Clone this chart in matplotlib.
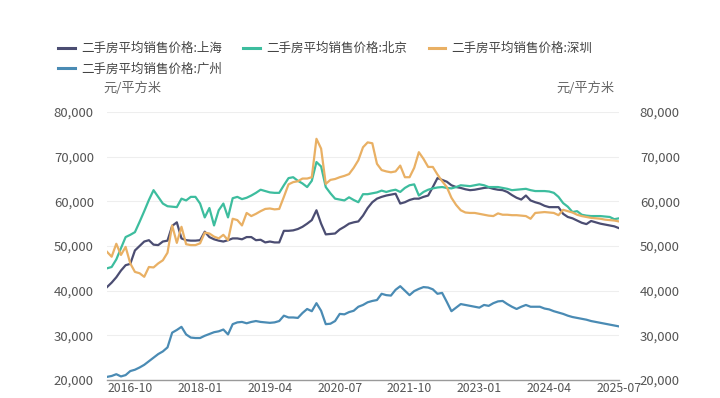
import matplotlib
matplotlib.use("Agg")
import matplotlib.pyplot as plt
from matplotlib.ticker import FuncFormatter
import pandas as pd

plt.rcParams['font.family'] = ['Noto Sans CJK SC', 'DejaVu Sans']

months = pd.date_range("2016-05-01", "2025-07-01", freq="MS").strftime("%Y-%m").tolist()

shanghai = [40.8, 41.8, 43.0, 44.5, 45.7, 46.0, 49.0, 50.0, 51.0, 51.3,
            50.3, 50.2, 51.0, 51.2, 54.5, 55.3, 51.7, 51.3, 51.2, 51.2,
            51.3, 53.2, 52.0, 51.5, 51.2, 51.0, 51.3, 51.7, 51.7, 51.5,
            52.0, 52.0, 51.3, 51.4, 50.8, 51.0, 50.8, 50.8, 53.4, 53.4,
            53.5, 53.8, 54.3, 55.0, 55.8, 58.0, 55.0, 52.6, 52.7, 52.8,
            53.7, 54.3, 55.0, 55.3, 55.5, 56.8, 58.5, 59.8, 60.6, 61.0,
            61.3, 61.5, 61.7, 59.5, 59.8, 60.3, 60.6, 60.6, 61.0, 61.3,
            63.2, 65.2, 64.8, 64.4, 63.6, 63.2, 63.0, 62.7, 62.5, 62.6,
            62.8, 63.0, 63.1, 62.8, 62.6, 62.5, 62.1, 61.4, 60.8, 60.4,
            61.3, 60.2, 59.8, 59.5, 59.0, 58.7, 58.7, 58.7, 57.2, 56.5,
            56.2, 55.7, 55.2, 54.9, 55.6, 55.3, 55.0, 54.8, 54.6, 54.4,
            54.0]

beijing = [45.0, 45.3, 47.0, 49.5, 52.0, 52.5, 53.1, 55.4, 57.8, 60.3,
           62.5, 61.0, 59.5, 58.9, 58.8, 58.7, 60.6, 60.2, 61.0, 61.0,
           59.5, 56.4, 58.5, 54.6, 58.0, 59.5, 56.4, 60.7, 61.0, 60.5,
           60.8, 61.3, 61.9, 62.6, 62.3, 62.0, 61.9, 61.9, 63.6, 65.2,
           65.4, 64.6, 64.0, 63.2, 64.6, 68.8, 67.8, 63.2, 61.8, 60.6,
           60.4, 60.2, 60.9, 60.3, 59.8, 61.6, 61.6, 61.8, 62.0, 62.4,
           62.1, 62.4, 62.6, 62.1, 63.0, 63.6, 63.8, 61.3, 62.1, 62.6,
           62.9, 63.1, 63.2, 63.0, 62.9, 63.2, 63.6, 63.5, 63.4, 63.6,
           63.8, 63.6, 63.2, 63.2, 63.2, 63.0, 62.8, 62.5, 62.6, 62.7,
           62.8, 62.5, 62.3, 62.3, 62.3, 62.2, 61.9, 61.0, 59.6, 58.8,
           57.6, 57.8, 57.0, 56.8, 56.7, 56.7, 56.7, 56.6, 56.5, 56.0,
           56.2]

shenzhen = [48.7, 47.6, 50.5, 48.0, 49.8, 46.1, 44.2, 43.9, 43.1, 45.3,
            45.2, 46.1, 46.8, 48.5, 54.6, 50.7, 54.3, 50.4, 50.2, 50.2,
            50.6, 53.0, 52.8, 52.1, 51.7, 52.5, 51.3, 56.1, 55.8, 54.6,
            57.4, 56.7, 57.2, 57.8, 58.3, 58.4, 58.2, 58.3, 61.0, 63.8,
            64.3, 64.5, 65.1, 65.1, 65.4, 74.0, 71.8, 63.9, 64.8, 65.0,
            65.4, 65.7, 66.1, 67.5, 69.2, 72.1, 73.2, 73.0, 68.4, 67.0,
            66.7, 66.5, 66.7, 68.0, 65.4, 65.4, 67.5, 71.0, 69.5, 67.7,
            67.7, 66.0, 64.5, 63.2, 60.8, 59.2, 58.0, 57.5, 57.4, 57.4,
            57.2, 57.0, 56.8, 56.7, 57.3, 57.0, 57.0, 56.9, 56.9, 56.8,
            56.7, 56.1, 57.4, 57.5, 57.6, 57.5, 57.4, 56.9, 58.1, 57.8,
            57.5, 57.0, 56.7, 56.5, 56.3, 56.2, 56.1, 55.9, 55.8, 55.7,
            55.5]

guangzhou = [20.7, 20.9, 21.3, 20.8, 21.1, 22.0, 22.3, 22.8, 23.4, 24.2,
             25.0, 25.8, 26.4, 27.3, 30.6, 31.2, 31.9, 30.2, 29.5, 29.4,
             29.4, 29.9, 30.3, 30.7, 30.9, 31.3, 30.2, 32.5, 32.9, 33.0,
             32.7, 33.0, 33.2, 33.0, 32.9, 32.8, 32.9, 33.2, 34.4, 34.0,
             34.0, 33.9, 35.0, 35.9, 35.4, 37.2, 35.5, 32.5, 32.6, 33.2,
             34.8, 34.7, 35.2, 35.5, 36.4, 36.8, 37.4, 37.7, 37.9, 39.3,
             39.0, 38.9, 40.2, 41.0, 40.0, 39.0, 39.9, 40.4, 40.8, 40.7,
             40.3, 39.3, 39.5, 37.5, 35.4, 36.2, 37.0, 36.8, 36.6, 36.4,
             36.2, 36.8, 36.6, 37.2, 37.6, 37.7, 37.0, 36.4, 35.9, 36.4,
             36.8, 36.4, 36.4, 36.4, 36.0, 35.8, 35.4, 35.1, 34.8, 34.4,
             34.1, 33.9, 33.7, 33.5, 33.2, 33.0, 32.8, 32.6, 32.4, 32.2,
             32.0]

series_names = ["二手房平均销售价格:上海", "二手房平均销售价格:北京",
                "二手房平均销售价格:深圳", "二手房平均销售价格:广州"]
colors = ["#4b4d72", "#3dbd9e", "#e9b064", "#4a8bb4"]
tick_labels = ["2016-10", "2018-01", "2019-04", "2020-07", "2021-10",
               "2023-01", "2024-04", "2025-07"]
unit_label = "元/平方米"

W, H = 720, 398
fig = plt.figure(figsize=(W / 100, H / 100), dpi=100)
ax = fig.add_axes([107 / W, 1 - 380 / H, (619 - 107) / W, (380 - 112) / H])

x = list(range(len(months)))
handles = []
for vals, c, name in zip([shanghai, beijing, shenzhen, guangzhou], colors, series_names):
    ln, = ax.plot(x, [v * 1000 for v in vals], color=c, lw=1.6, label=name,
                  solid_joinstyle="round", zorder=3)
    handles.append(ln)

ax.set_xlim(0, len(months) - 1)
ax.set_ylim(20000, 80000)
ax.set_yticks(range(20000, 80001, 10000))
fmt = FuncFormatter(lambda v, p: f"{int(v):,}")
ax.yaxis.set_major_formatter(fmt)
ax.grid(axis="y", color="#eeeeee", lw=0.8)
ax.set_axisbelow(True)
ticks = [months.index(t) for t in tick_labels]
ax.set_xticks(ticks)
ax.set_xticklabels(tick_labels)
for s in ["top", "right", "left"]:
    ax.spines[s].set_visible(False)
ax.spines["bottom"].set_color("#9a9a9a")
ax.spines["bottom"].set_linewidth(1.0)
ax.tick_params(axis="both", length=0, labelsize=9.5, labelcolor="#555555")
ax.tick_params(axis="y", pad=9.5)
ax.tick_params(axis="x", pad=1.5, labelsize=8.8)

ax2 = ax.twinx()
ax2.set_ylim(20000, 80000)
ax2.set_yticks(range(20000, 80001, 10000))
ax2.yaxis.set_major_formatter(fmt)
for s in ax2.spines.values():
    s.set_visible(False)
ax2.tick_params(axis="y", length=0, labelsize=9.5, labelcolor="#555555", pad=15)

fig.text(103 / W, 1 - 88 / H, unit_label, fontsize=9.5, color="#666666", va="center", ha="left")
fig.text(615 / W, 1 - 88 / H, unit_label, fontsize=9.5, color="#666666", va="center", ha="right")

order = [0, 3, 1, 2]
leg = fig.legend([handles[i] for i in order], [series_names[i] for i in order],
                 ncol=3, loc="upper left", bbox_to_anchor=(58 / W, 1 - 42 / H),
                 frameon=False, fontsize=9, handlelength=1.35, handletextpad=0.5,
                 columnspacing=1.7, labelspacing=0.6, borderpad=0, borderaxespad=0)
for t in leg.get_texts():
    t.set_color("#444444")
for l in leg.get_lines():
    l.set_linewidth(2.2)

fig.savefig("out.png", dpi=100, facecolor="white")
